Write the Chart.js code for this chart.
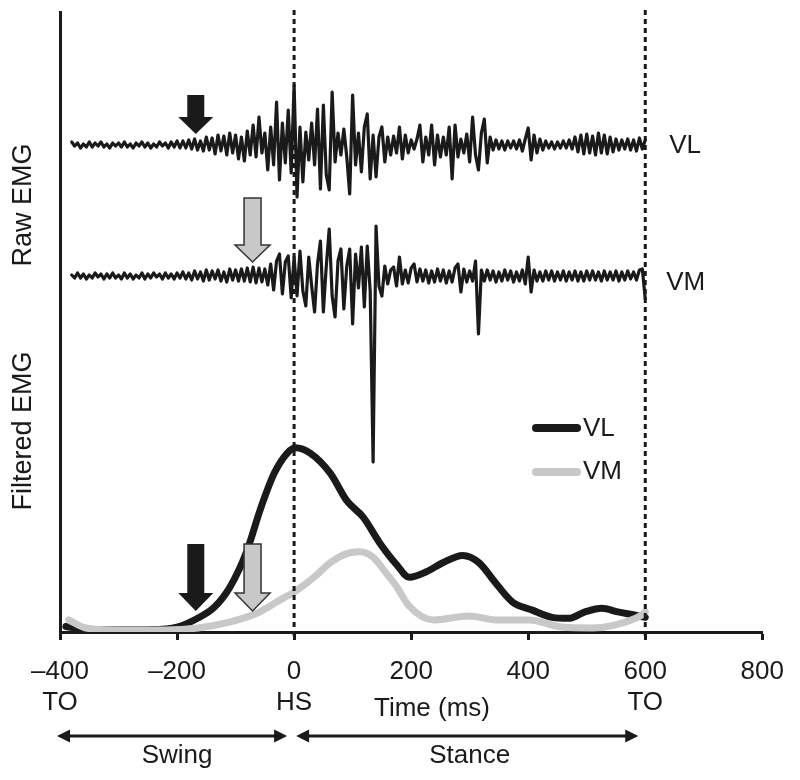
<!DOCTYPE html>
<html>
<head>
<meta charset="utf-8">
<script src="https://cdn.jsdelivr.net/npm/chart.js@4.4.0/dist/chart.umd.min.js"></script>
<style>
  body { margin: 0; background: #fff; }
  #wrap { width: 800px; height: 780px; }
</style>
</head>
<body>
<div id="wrap"><canvas id="emgChart" width="800" height="780"></canvas></div>
<script>
const ink = '#1a1a1a';
const grey = '#c8c8c8';
const font = "'Liberation Sans', Arial, sans-serif";

// x axis ticks (ms) and the gait events under them
const tickValues = [-400, -200, 0, 200, 400, 600, 800];
const tickText = ['\u2013400', '\u2013200', '0', '200', '400', '600', '800'];
const tickEvents = ['TO', '', 'HS', '', '', 'TO', ''];

// gait phases
const phaseBounds = [-400, 0, 600];
const phaseNames = ['Swing', 'Stance'];
const eventLines = [0, 600];

// onset arrows (ms)
const onsetVL = -168;
const onsetVM = -71;

// raw EMG, one sample every 5 ms starting at -380 ms
const rawStart = -380;
const rawStep = 5;
const rawVL = [
  3, -1, 2, -3, 1, -2, 3, -2, 2, -1, 3, -2, 1, -3, 2, -1, 2, -2,
  3, -2, 1, -3, 2, -1, 3, -2, 2, -3, 1, -2, 3, -1, 2, -3, 3, -2, 4, -3,
  4, -3, 5, -4, 6, -5, 4, -6, 8, -5, 7, -9, 10, -6, 9, -10, 12, -8, 10, -14,
  8, -16, 14, -10, 20, -12, 28, -8, 12, -25, 18, -20, 43, -35, 22, -18, 35, -28, 60, -52,
  18, -37, 13, -15, 22, -20, 36, -44, 40, -30, -45, 53, -17, 12, -10, 16, -12, -49, 50, -20,
  12, -27, 18, 31, -34, 10, -32, 8, 18, -17, 8, -10, 9, -8, 18, -14, 10, -8, 5, -4,
  6, 20, -17, 8, -10, 20, -20, 10, -12, 8, -10, 18, -34, 20, -12, 6, -8, 11, -17, 28,
  -10, -25, 12, 26, -18, 8, -5, 5, -4, 4, -5, 4, -3, 4, -4, 5, -6, 6, 17, -15,
  10, -8, 6, -5, 4, -3, 3, -4, 3, -3, 4, -3, 5, -4, 8, -7, 10, -9, 11, -8,
  9, -10, 12, -8, 10, -9, 8, -7, 6, -5, 5, -4, 6, -5, 5, -6, 7, -4, 5
];
const rawVM = [
  1, -2, 3, -2, 2, -3, 1, -2, 3, -1, 2, -3, 2, -2, 3, -2, 1, -3,
  3, -2, 2, -3, 1, -2, 3, -3, 2, -2, 3, -1, 2, -3, 3, -2, 2, -3, 3, -2,
  4, -3, 3, -4, 5, -3, 4, -5, 6, -4, 5, -3, 6, -5, 4, -6, 7, -4, 6, -5,
  7, -5, 8, -6, 9, -7, 8, -6, 7, -9, 12, -14, 15, 22, -18, 14, 20, -22, 19, -20,
  25, -15, -30, 19, -10, -36, 12, 35, -36, 10, 47, -20, -41, 15, 27, -33, 10, 27, -48, 22,
  -12, 29, -31, 30, -15, -186, 50, -10, -20, 10, -8, 6, 9, -10, 19, -8, 6, -7, 8, 12,
  -6, 7, -5, 6, -7, 5, -6, 7, -5, 6, -7, 5, -6, 8, 12, -16, 7, -6, 5, -5,
  15, -58, 6, -5, 6, -4, 5, -6, 4, -5, 6, -4, 5, -6, 4, -5, 6, -8, 19, -16,
  6, -5, 4, -5, 5, -4, 5, -5, 4, -4, 5, -5, 4, -4, 5, -5, 4, -5, 5, -4,
  5, -4, 4, -5, 5, -4, 4, -4, 5, -5, 4, -4, 5, -3, 4, -4, 6, 7, -23
];

// filtered EMG envelopes
const filtTimeVL = [-390, -356, -305, -250, -200, -164, -136, -109, -80, -58, -34, -12, 2, 28, 62, 90, 118, 146, 175, 197, 226, 254, 288, 316, 344, 373, 407, 441, 469, 497, 526, 553, 587, 600];
const filtVL = [3, 1.5, 1.2, 1.3, 2.7, 7.7, 13.7, 25, 45, 67, 87, 98, 101, 98, 87, 72, 63, 49, 37, 30, 33, 38, 42, 38, 27, 16.5, 12, 8, 7.5, 11, 13, 11, 9, 8];
const filtTimeVM = [-385, -356, -305, -221, -164, -109, -63, -24, 5, 34, 62, 90, 112, 135, 158, 175, 197, 238, 299, 345, 401, 458, 509, 548, 594, 600];
const filtVM = [6.6, 2.2, 1.1, 1.1, 2.2, 5.5, 10.4, 17.6, 23, 30, 38, 43, 44, 41, 32, 25, 14, 6.6, 8.8, 6.6, 6.6, 2.7, 2.2, 3.8, 9.3, 11];

function toPoints(times, values) {
  return values.map(function (v, i) { return { x: times[i], y: v }; });
}

function rawPoints(values) {
  return values.map(function (v, i) { return { x: rawStart + i * rawStep, y: v }; });
}

function downArrow(ctx, cx, top, neck, tip, fill, stroke) {
  ctx.beginPath();
  ctx.moveTo(cx - 8.5, top);
  ctx.lineTo(cx + 8.5, top);
  ctx.lineTo(cx + 8.5, neck);
  ctx.lineTo(cx + 17.5, neck);
  ctx.lineTo(cx, tip);
  ctx.lineTo(cx - 17.5, neck);
  ctx.lineTo(cx - 8.5, neck);
  ctx.closePath();
  ctx.fillStyle = fill;
  ctx.fill();
  if (stroke) {
    ctx.lineWidth = 1.5;
    ctx.strokeStyle = stroke;
    ctx.stroke();
  }
}

function doubleArrow(ctx, x1, x2, y) {
  ctx.lineWidth = 3;
  ctx.strokeStyle = ink;
  ctx.fillStyle = ink;
  ctx.beginPath();
  ctx.moveTo(x1 + 6, y);
  ctx.lineTo(x2 - 6, y);
  ctx.stroke();
  ctx.beginPath();
  ctx.moveTo(x1, y);
  ctx.lineTo(x1 + 13, y - 6.5);
  ctx.lineTo(x1 + 13, y + 6.5);
  ctx.closePath();
  ctx.fill();
  ctx.beginPath();
  ctx.moveTo(x2, y);
  ctx.lineTo(x2 - 13, y - 6.5);
  ctx.lineTo(x2 - 13, y + 6.5);
  ctx.closePath();
  ctx.fill();
}

const overlay = {
  id: 'overlay',
  afterDatasetsDraw: function (chart) {
    const ctx = chart.ctx;
    const area = chart.chartArea;
    const x = chart.scales.x;
    ctx.save();
    ctx.strokeStyle = ink;
    ctx.lineWidth = 3;
    ctx.setLineDash([5, 4]);
    eventLines.forEach(function (t) {
      const px = x.getPixelForValue(t);
      ctx.beginPath();
      ctx.moveTo(px, area.top - 2);
      ctx.lineTo(px, area.bottom + 6);
      ctx.stroke();
    });
    ctx.restore();
  },
  afterDraw: function (chart) {
    const ctx = chart.ctx;
    const x = chart.scales.x;
    ctx.save();

    // onset arrows
    downArrow(ctx, x.getPixelForValue(onsetVL), 95, 117, 134, ink);
    downArrow(ctx, x.getPixelForValue(onsetVM), 198, 245, 262, grey, '#333');
    downArrow(ctx, x.getPixelForValue(onsetVL), 544, 593, 611, ink);
    downArrow(ctx, x.getPixelForValue(onsetVM), 544, 593, 611, grey, '#333');

    // muscle labels at the end of the raw traces
    ctx.fillStyle = ink;
    ctx.font = '26px ' + font;
    ctx.textAlign = 'left';
    ctx.textBaseline = 'middle';
    const endPx = x.getPixelForValue(600);
    ctx.fillText('VL', endPx + 24, 146);
    ctx.fillText('VM', endPx + 21, 283);

    // legend
    ctx.lineCap = 'round';
    ctx.lineWidth = 8;
    ctx.strokeStyle = ink;
    ctx.beginPath(); ctx.moveTo(536, 428); ctx.lineTo(577, 428); ctx.stroke();
    ctx.strokeStyle = grey;
    ctx.beginPath(); ctx.moveTo(536, 472); ctx.lineTo(577, 472); ctx.stroke();
    ctx.fillText('VL', 583, 429);
    ctx.fillText('VM', 583, 472);

    // y titles
    ctx.font = '27px ' + font;
    ctx.textAlign = 'center';
    [['Raw EMG', 205], ['Filtered EMG', 431]].forEach(function (t) {
      ctx.save();
      ctx.translate(24, t[1]);
      ctx.rotate(-Math.PI / 2);
      ctx.fillText(t[0], 0, 0);
      ctx.restore();
    });

    // x title and phases
    ctx.font = '26px ' + font;
    ctx.fillText('Time (ms)', 432, 709);
    ctx.lineCap = 'butt';
    for (let i = 0; i < phaseNames.length; i++) {
      const a = x.getPixelForValue(phaseBounds[i]);
      const b = x.getPixelForValue(phaseBounds[i + 1]);
      doubleArrow(ctx, a + (i === 0 ? -3 : 2), b - 7, 736);
      ctx.fillStyle = ink;
      ctx.fillText(phaseNames[i], (a + b) / 2, 756);
    }
    ctx.restore();
  }
};

const ctx = document.getElementById('emgChart').getContext('2d');
new Chart(ctx, {
  type: 'line',
  data: {
    datasets: [
      { label: 'VM', data: toPoints(filtTimeVM, filtVM), borderColor: grey, borderWidth: 7, cubicInterpolationMode: 'monotone', yAxisID: 'y', order: 1 },
      { label: 'VL', data: toPoints(filtTimeVL, filtVL), borderColor: ink, borderWidth: 7, cubicInterpolationMode: 'monotone', yAxisID: 'y', order: 2 },
      { label: 'VL raw', data: rawPoints(rawVL), borderColor: ink, borderWidth: 3.2, tension: 0, yAxisID: 'yVL', order: 3 },
      { label: 'VM raw', data: rawPoints(rawVM), borderColor: ink, borderWidth: 3.2, tension: 0, yAxisID: 'yVM', order: 4 }
    ]
  },
  options: {
    responsive: false,
    animation: false,
    elements: {
      point: { radius: 0 },
      line: { fill: false, borderCapStyle: 'round', borderJoinStyle: 'round' }
    },
    layout: { padding: { left: 60, right: 33, top: 12, bottom: 0 } },
    plugins: {
      legend: { display: false },
      tooltip: { enabled: false }
    },
    scales: {
      x: {
        type: 'linear',
        min: -400,
        max: 800,
        afterBuildTicks: function (scale) {
          scale.ticks = tickValues.map(function (v) { return { value: v }; });
        },
        afterFit: function (scale) { scale.height = 148; },
        ticks: {
          autoSkip: false,
          maxRotation: 0,
          padding: 16,
          color: ink,
          font: { family: font, size: 26, lineHeight: 1.2 },
          callback: function (value) {
            const i = tickValues.indexOf(value);
            return tickEvents[i] ? [tickText[i], tickEvents[i]] : tickText[i];
          }
        },
        grid: { drawOnChartArea: false, tickLength: 8, tickWidth: 3, tickColor: ink },
        border: { display: true, color: ink, width: 3 }
      },
      y: {
        min: 0,
        max: 340,
        afterFit: function (scale) { scale.width = 0; },
        ticks: { display: false },
        grid: { display: false },
        border: { display: true, color: ink, width: 3 }
      },
      yVL: { display: false, min: -487, max: 133 },
      yVM: { display: false, min: -356, max: 264 }
    }
  },
  plugins: [overlay]
});
</script>
</body>
</html>
